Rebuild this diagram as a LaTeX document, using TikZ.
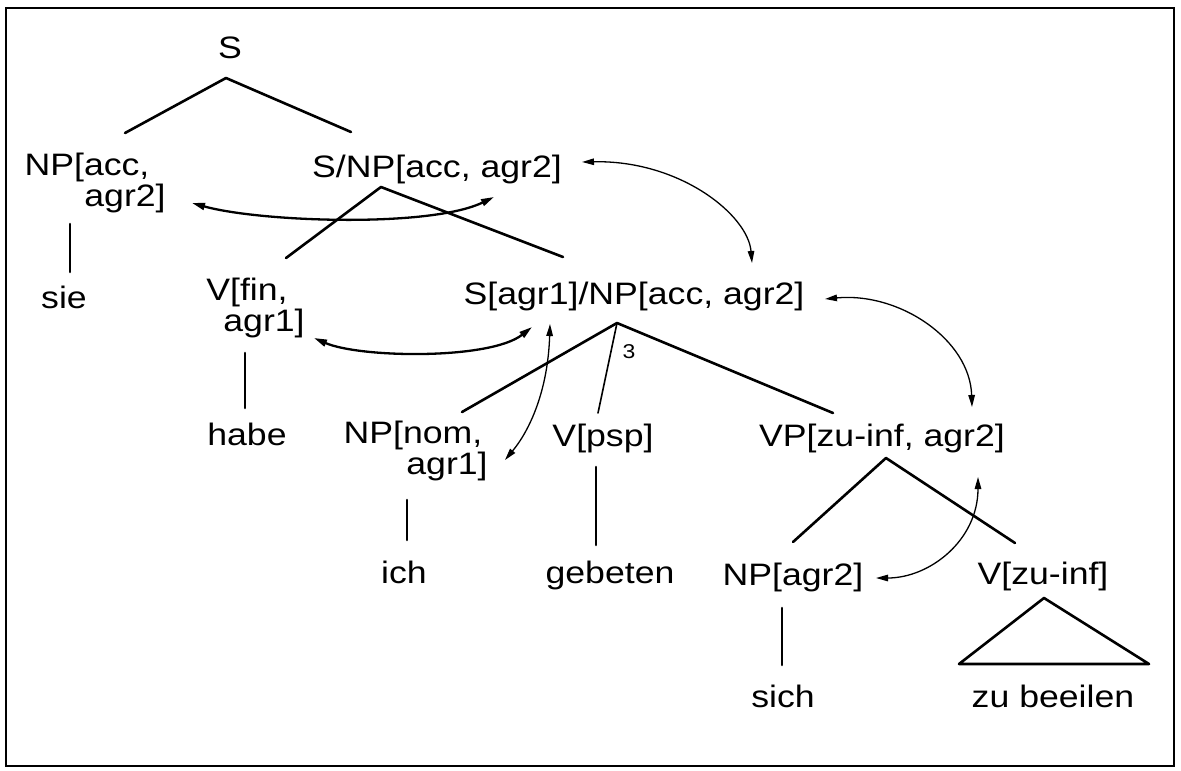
\documentclass[tikz,border=0pt]{standalone}
\usepackage{fontspec}
\setmainfont{Liberation Sans}[FakeStretch=1.15]
\usetikzlibrary{arrows.meta}
\begin{document}
\begin{tikzpicture}[x=1pt,y=-1pt,
  lbl/.style={font=\fontsize{31}{31}\selectfont, inner sep=0pt, anchor=base},
  small/.style={font=\fontsize{20}{20}\selectfont, inner sep=0pt, anchor=base},
  edge/.style={line width=2.6pt, line cap=round, line join=round},
  thinedge/.style={line width=1.6pt, line cap=round},
  thickarc/.style={line width=2.3pt, arrows={Triangle[length=13pt,width=7pt]-Triangle[length=13pt,width=7pt]}},
  thinarc/.style={line width=1.3pt, arrows={Triangle[length=12pt,width=6.5pt]-Triangle[length=12pt,width=6.5pt]}}]
\useasboundingbox (0,0) rectangle (1181,771);
\fill[white] (0,0) rectangle (1181,771);
\draw[line width=2.5pt] (6,8) rectangle (1174,766);

% labels
\node[lbl] (S) at (230,58) {S};
\node[lbl] (NPacc) at (87,175) {NP[acc,};
\node[lbl] (NPacc2) at (125,206) {agr2]};
\node[lbl] (SNP) at (437,177) {S/NP[acc, agr2]};
\node[lbl] (sie) at (64,308) {sie};
\node[lbl] (Vfin) at (247,300) {V[fin,};
\node[lbl] (Vfin2) at (264,331) {agr1]};
\node[lbl] (Sagr) at (634,304) {S[agr1]/NP[acc, agr2]};
\node[lbl] (habe) at (247,445) {habe};
\node[lbl] (NPnom) at (413,443) {NP[nom,};
\node[lbl] (NPnom2) at (447,474) {agr1]};
\node[lbl] (Vpsp) at (603,446) {V[psp]};
\node[lbl] (VP) at (882,446) {VP[zu-inf, agr2]};
\node[lbl] (ich) at (404,583) {ich};
\node[lbl] (gebeten) at (610,583) {gebeten};
\node[lbl] (NPagr) at (793,585) {NP[agr2]};
\node[lbl] (Vzu) at (1043,584) {V[zu-inf]};
\node[lbl] (sich) at (783,707) {sich};
\node[lbl] (zub) at (1053,707) {zu beeilen};
\node[small] (three) at (629,358) {3};

% attachment points
\coordinate (S-a) at (226,78);
\coordinate (NPacc-t) at (125,133);
\coordinate (SNP-t) at (351,132);
\coordinate (NPacc-b) at (70,224);
\coordinate (sie-t) at (70,272);
\coordinate (SNP-a) at (381,187);
\coordinate (Vfin-t) at (286,258);
\coordinate (Sagr-t) at (563,257);
\coordinate (Vfin-b) at (245,353);
\coordinate (habe-t) at (245,408);
\coordinate (Sagr-a) at (617,323);
\coordinate (NPnom-t) at (462,412);
\coordinate (Vpsp-t) at (598,413);
\coordinate (VP-t) at (833,413);
\coordinate (NPnom-b) at (407,500);
\coordinate (ich-t) at (407,540);
\coordinate (Vpsp-b) at (596,467);
\coordinate (geb-t) at (596,545);
\coordinate (VP-a) at (886,458);
\coordinate (NPagr-t) at (793,542);
\coordinate (Vzu-t) at (1015,543);
\coordinate (NPagr-b) at (782,608);
\coordinate (sich-t) at (782,665);
\coordinate (Vzu-a) at (1044,598);
\coordinate (zub-l) at (959,664);
\coordinate (zub-r) at (1149,664);

% tree edges
\draw[edge] (NPacc-t) -- (S-a) -- (SNP-t);
\draw[edge] (NPacc-b) -- (sie-t);
\draw[edge] (Vfin-t) -- (SNP-a) -- (Sagr-t);
\draw[edge] (Vfin-b) -- (habe-t);
\draw[edge] (NPnom-t) -- (Sagr-a) -- (VP-t);
\draw[thinedge] (Sagr-a) -- (Vpsp-t);
\draw[edge] (NPnom-b) -- (ich-t);
\draw[edge] (Vpsp-b) -- (geb-t);
\draw[edge] (NPagr-t) -- (VP-a) -- (Vzu-t);
\draw[edge] (NPagr-b) -- (sich-t);
\draw[edge] (Vzu-a) -- (zub-r) -- (zub-l) -- cycle;

% agreement arrows
\coordinate (a1) at (192,203);
\coordinate (a2) at (494,197);
\draw[thickarc] (a1) .. controls (260,222) and (430,228) .. (a2);
\coordinate (b1) at (582,162);
\coordinate (b2) at (752,263);
\draw[thinarc] (b1) .. controls (680,160) and (748,215) .. (b2);
\coordinate (c1) at (314,338);
\coordinate (c2) at (532,327);
\draw[thickarc] (c1) .. controls (360,358) and (490,360) .. (c2);
\coordinate (d1) at (550,324);
\coordinate (d2) at (505,460);
\draw[thinarc] (d1) .. controls (548,390) and (530,430) .. (d2);
\coordinate (e1) at (825,299);
\coordinate (e2) at (972,407);
\draw[thinarc] (e1) .. controls (900,292) and (970,340) .. (e2);
\coordinate (f1) at (978,477);
\coordinate (f2) at (876,578);
\draw[thinarc] (f1) .. controls (978,540) and (930,578) .. (f2);
\end{tikzpicture}
\end{document}
